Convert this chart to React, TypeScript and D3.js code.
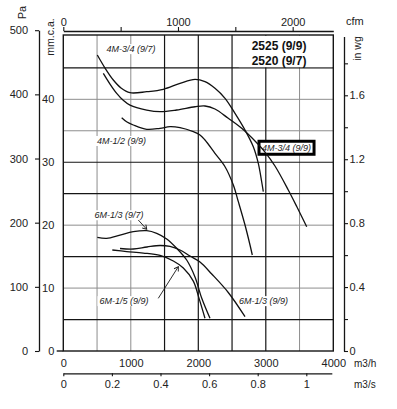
import React, { useEffect, useRef } from 'react';
import * as d3 from 'd3';

const W = 397;
const H = 409;
const FONT = "'Liberation Sans', Arial, Helvetica, sans-serif";

// unit conversions
const PA_PER_MM = 9.80665;
const MM_PER_INWG = 25.4;
const CFM_PER_M3H = 0.588578;
const M3H_PER_M3S = 3600;

// axes ticks
const flowTicks = [0, 1000, 2000, 3000, 4000]; // m3/h
const mmTicks = [0, 10, 20, 30, 40];
const paTicks = [0, 100, 200, 300, 400, 500];
const inwgTicks = [0, 0.2, 0.4, 0.6, 0.8, 1.0, 1.2, 1.4, 1.6, 1.8];
const inwgLabelTicks = [0, 0.4, 0.8, 1.2, 1.6];
const cfmTicks = [0, 500, 1000, 1500, 2000];
const cfmLabelTicks = [0, 1000, 2000];
const m3sTicks = [0, 0.2, 0.4, 0.6, 0.8, 1];

// grid (m3/h and mm.c.a.)
const gridDarkX = [1500, 2000, 2500, 3000];
const gridLightX = [500, 1000, 3500];
const gridDarkY = [5, 15, 25, 30, 45];
const gridLightY = [10, 20, 35, 40];

// curves: [m3/h, mm.c.a.]
const curve4M34_97: [number, number][] = [
  [504, 47.04], [618, 44.97], [741, 43.07], [855, 41.8], [988, 41.05], [1236, 41.21],
  [1482, 41.59], [1729, 42.54], [1951, 43.18], [2099, 42.8], [2247, 41.75], [2396, 40.16],
  [2544, 37.77], [2692, 35.12], [2815, 32.47], [2889, 29.83], [2939, 26.9], [2963, 25.32],
];
const curve4M34_99: [number, number][] = [
  [593, 44.13], [692, 42.43], [791, 40.95], [884, 39.89], [988, 39.09], [1236, 38.3],
  [1433, 38.03], [1680, 38.3], [1951, 38.82], [2099, 38.94], [2247, 38.46], [2444, 36.98],
  [2643, 35.39], [2840, 33.37], [2988, 31.62], [3136, 29.4], [3333, 25.59], [3462, 22.88],
  [3606, 19.75],
];
const curve4M12_99: [number, number][] = [
  [865, 37.08], [944, 36.39], [1037, 35.92], [1236, 35.23], [1433, 35.39], [1581, 35.65],
  [1729, 35.49], [1926, 34.85], [2025, 34.33], [2099, 33.53], [2247, 31.42], [2396, 29.29],
  [2519, 26.38], [2593, 23.73], [2692, 20.02], [2766, 16.85], [2800, 15.26],
];
const curve6M13_97: [number, number][] = [
  [504, 18.07], [643, 17.91], [840, 18.43], [1037, 18.96], [1236, 19.12], [1384, 18.7],
  [1532, 17.8], [1680, 16.32], [1828, 14.46], [1951, 11.76], [2050, 8.42], [2173, 5.2],
];
const curve6M13_99: [number, number][] = [
  [840, 16.29], [1037, 16.21], [1240, 16.53], [1433, 16.77], [1581, 16.61], [1729, 16.05],
  [1877, 15.1], [2025, 14.14], [2199, 12.24], [2444, 9.3], [2692, 5.45],
];
const curve6M15_99: [number, number][] = [
  [726, 16.05], [939, 15.81], [1185, 15.57], [1433, 15.18], [1630, 14.3], [1778, 13.19],
  [1926, 11.1], [2010, 8.4], [2099, 5.2],
];

const curves = [curve4M34_97, curve4M34_99, curve4M12_99, curve6M13_97, curve6M13_99, curve6M15_99];

// labels: text, [m3/h, mm]
const labelTexts = ['4M-3/4 (9/7)', '4M-1/2 (9/9)', '6M-1/3 (9/7)', '6M-1/5 (9/9)', '6M-1/3 (9/9)'];
const labelPos: [number, number][] = [[1003, 48.0], [862, 33.4], [825, 21.6], [899, 7.95], [2966, 7.95]];
const boxedLabel = '4M-3/4 (9/9)';
const boxedPos: [number, number] = [3307, 32.3];
const titleLines = ['2525 (9/9)', '2520 (9/7)'];
const titlePos: [number, number][] = [[3196, 48.6], [3196, 46.1]];

// leader lines [from, to] in [m3/h, mm]
const leaders: [number, number][][] = [
  [[1111, 20.82], [1236, 19.34]],
  [[1407, 8.37], [1704, 13.4]],
];

export default function App() {
  const ref = useRef<SVGSVGElement>(null);

  useEffect(() => {
    const svg = d3.select(ref.current!);
    svg.selectAll('*').remove();

    const L = 63.3, R = 333.3, B = 351, T = 35, YTOP = 36.4;
    const x = d3.scaleLinear().domain([0, 4000]).range([L, R]);
    const y = d3.scaleLinear().domain([0, 50]).range([B, YTOP]);

    const dark = '#151515';
    const grey = '#8d8d8d';
    const txt = '#222';

    svg.append('rect').attr('width', W).attr('height', H).attr('fill', '#fff');

    const defs = svg.append('defs');
    defs.append('marker').attr('id', 'arr').attr('viewBox', '-5 -4 6 8').attr('refX', 0).attr('refY', 0)
      .attr('markerWidth', 6).attr('markerHeight', 8).attr('markerUnits', 'userSpaceOnUse').attr('orient', 'auto')
      .append('path').attr('d', 'M-4,-2.5L0,0L-4,2.5').attr('fill', 'none').attr('stroke', dark).attr('stroke-width', 0.9);

    // grid
    const grid = svg.append('g');
    grid.selectAll('line.lx').data(gridLightX).join('line')
      .attr('x1', d => x(d)).attr('x2', d => x(d)).attr('y1', T).attr('y2', B)
      .attr('stroke', grey).attr('stroke-width', 1);
    grid.selectAll('line.ly').data(gridLightY).join('line')
      .attr('x1', L).attr('x2', R).attr('y1', d => y(d)).attr('y2', d => y(d))
      .attr('stroke', grey).attr('stroke-width', 1);
    grid.selectAll('line.dx').data(gridDarkX).join('line')
      .attr('x1', d => x(d)).attr('x2', d => x(d)).attr('y1', T).attr('y2', B)
      .attr('stroke', dark).attr('stroke-width', 1.2);
    grid.selectAll('line.dy').data(gridDarkY).join('line')
      .attr('x1', L).attr('x2', R).attr('y1', d => y(d)).attr('y2', d => y(d))
      .attr('stroke', dark).attr('stroke-width', 1.2);

    // title block background + text
    svg.append('rect').attr('x', x(2600)).attr('y', T + 0.7)
      .attr('width', R - 0.7 - x(2600)).attr('height', y(45) - 0.7 - (T + 0.7)).attr('fill', '#fff');
    svg.append('g').selectAll('text').data(titleLines).join('text')
      .attr('x', (d, i) => x(titlePos[i][0])).attr('y', (d, i) => y(titlePos[i][1]))
      .attr('dy', '0.36em').attr('text-anchor', 'middle')
      .attr('font-family', FONT).attr('font-size', 12).attr('font-weight', 'bold').attr('fill', '#111')
      .text(d => d);

    // curve labels with white background
    labelTexts.forEach((t, i) => {
      const g = svg.append('g');
      const r = g.append('rect').attr('fill', '#fff');
      const tx = g.append('text')
        .attr('x', x(labelPos[i][0])).attr('y', y(labelPos[i][1])).attr('dy', '0.35em')
        .attr('text-anchor', 'middle').attr('font-family', FONT).attr('font-size', 9)
        .attr('font-style', 'italic').attr('fill', '#222').text(t);
      const bb = (tx.node() as SVGTextElement).getBBox();
      r.attr('x', bb.x - 2).attr('y', bb.y).attr('width', bb.width + 4).attr('height', bb.height);
    });

    // plot border
    svg.append('rect').attr('x', L).attr('y', T).attr('width', R - L).attr('height', B - T)
      .attr('fill', 'none').attr('stroke', dark).attr('stroke-width', 1.4);
    svg.append('line').attr('x1', L - 6.6).attr('x2', L).attr('y1', B).attr('y2', B)
      .attr('stroke', dark).attr('stroke-width', 1.4);

    // boxed label
    {
      const g = svg.append('g');
      const r = g.append('rect').attr('fill', '#fff').attr('stroke', '#000').attr('stroke-width', 3);
      const tx = g.append('text')
        .attr('x', x(boxedPos[0])).attr('y', y(boxedPos[1])).attr('dy', '0.35em')
        .attr('text-anchor', 'middle').attr('font-family', FONT).attr('font-size', 9)
        .attr('font-style', 'italic').attr('fill', '#222').text(boxedLabel);
      const bb = (tx.node() as SVGTextElement).getBBox();
      r.attr('x', bb.x - 3).attr('y', y(boxedPos[1]) - 6.5).attr('width', bb.width + 6).attr('height', 13);
    }

    // curves
    const line = d3.line<[number, number]>()
      .x(d => x(d[0])).y(d => y(d[1]))
      .curve(d3.curveCatmullRom.alpha(0.5));
    svg.append('g').selectAll('path').data(curves).join('path')
      .attr('d', d => line(d)).attr('fill', 'none').attr('stroke', '#111').attr('stroke-width', 1.3);

    // leaders
    svg.append('g').selectAll('line').data(leaders).join('line')
      .attr('x1', d => x(d[0][0])).attr('y1', d => y(d[0][1]))
      .attr('x2', d => x(d[1][0])).attr('y2', d => y(d[1][1]))
      .attr('stroke', dark).attr('stroke-width', 0.9).attr('marker-end', 'url(#arr)');

    const styleAxis = (g: d3.Selection<SVGGElement, unknown, null, undefined>) => {
      g.attr('font-family', FONT).attr('font-size', 11);
      g.selectAll('text').attr('fill', txt);
      g.selectAll('line').attr('stroke', dark).attr('stroke-width', 1.1);
      g.select('.domain').attr('stroke', dark).attr('stroke-width', 1.3);
    };

    // Pa axis
    const yPa = d3.scaleLinear().domain([0, 500]).range([y(0), y(500 / PA_PER_MM)]);
    svg.append('g').attr('transform', 'translate(39,0)')
      .call(d3.axisLeft(yPa).tickValues(paTicks).tickSize(4).tickSizeOuter(0).tickPadding(7).tickFormat(d3.format('d')))
      .call(styleAxis);

    // mm.c.a. labels
    const gmm = svg.append('g').attr('transform', `translate(${L},0)`)
      .call(d3.axisLeft(y).tickValues(mmTicks).tickSize(0).tickPadding(9).tickFormat(d3.format('d')))
      .call(styleAxis);
    gmm.select('.domain').remove();

    // in wg axis
    const yIn = d3.scaleLinear().domain([0, 50 / MM_PER_INWG]).range([B, YTOP]);
    svg.append('g').attr('transform', 'translate(344,0)')
      .call(d3.axisRight(yIn).tickValues(inwgTicks).tickSize(4).tickSizeOuter(0).tickPadding(1.5)
        .tickFormat(d => inwgLabelTicks.some(v => Math.abs(v - +d) < 1e-9) ? d3.format('~g')(+d) : ''))
      .call(styleAxis);

    // cfm axis
    const xCfm = d3.scaleLinear().domain([0, 4000 * CFM_PER_M3H]).range([L, R]);
    svg.append('g').attr('transform', 'translate(0,31)')
      .call(d3.axisTop(xCfm).tickValues(cfmTicks).tickSize(4).tickSizeOuter(0).tickPadding(1.5)
        .tickFormat(d => cfmLabelTicks.includes(+d) ? String(d) : ''))
      .call(styleAxis);

    // m3/h labels
    const gm3h = svg.append('g').attr('transform', `translate(0,${B})`)
      .call(d3.axisBottom(x).tickValues(flowTicks).tickSize(0).tickPadding(8).tickFormat(d3.format('d')))
      .call(styleAxis);
    gm3h.select('.domain').remove();

    // m3/s axis
    const sMax = 3978 / M3H_PER_M3S;
    const xS = d3.scaleLinear().domain([0, sMax]).range([L, x(sMax * M3H_PER_M3S)]);
    svg.append('g').attr('transform', 'translate(0,373.3)')
      .call(d3.axisBottom(xS).tickValues(m3sTicks).tickSize(3).tickSizeOuter(0).tickPadding(4).tickFormat(d3.format('~g')))
      .call(styleAxis);

    // unit labels
    const unit = (t: string, px: number, py: number, rot = 0, anchor = 'start', size = 11) =>
      svg.append('text').attr('transform', `translate(${px},${py}) rotate(${rot})`)
        .attr('text-anchor', anchor).attr('dy', '0.35em')
        .attr('font-family', FONT).attr('font-size', size).attr('fill', txt).text(t);
    unit('Pa', 21.7, 12.5, -90, 'middle');
    unit('mm.c.a.', 50, 37, -90, 'middle', 10.5);
    unit('in wg', 357.5, 48.5, -90, 'middle', 10.5);
    unit('cfm', 346, 21.5);
    unit('m3/h', 354, 363, 0, 'start', 10);
    unit('m3/s', 354, 384.5, 0, 'start', 10);
  }, []);

  return <svg ref={ref} width={W} height={H} style={{ position: 'absolute', left: 0, top: 0 }} />;
}
